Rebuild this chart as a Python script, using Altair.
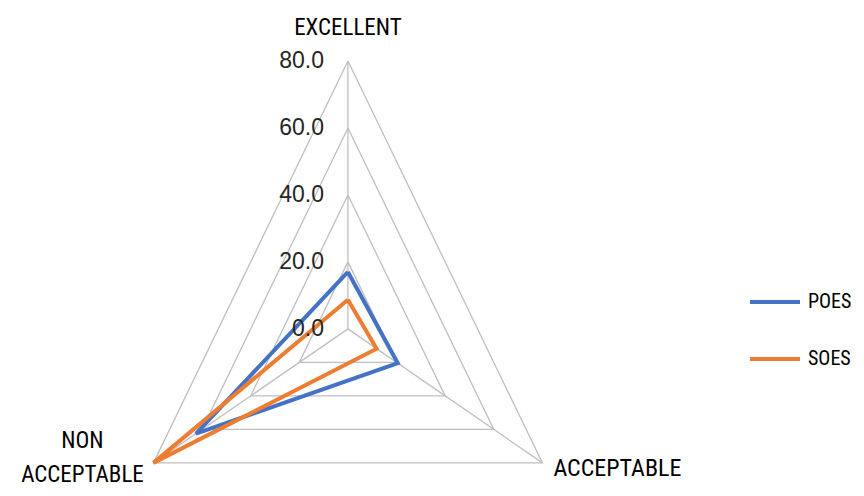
import math
import pandas as pd
import altair as alt

categories = ["EXCELLENT", "ACCEPTABLE", "NON ACCEPTABLE"]
series_names = ["POES", "SOES"]
poes = [17.0, 20.5, 62.5]
soes = [8.7, 11.8, 80.0]
ticks = [0, 20, 40, 60, 80]
colors = ["#4472C4", "#ED7D31"]

ANGLES = [0, 120, 240]
RMAX = 80
FONT = "Liberation Sans Narrow, Roboto Condensed, Roboto, Liberation Sans, sans-serif"


def pt(r, k):
    a = math.radians(ANGLES[k])
    return r * math.sin(a), r * math.cos(a)


# series polygons
srows = []
for name, vals in zip(series_names, [poes, soes]):
    for i in range(4):
        k = i % 3
        x, y = pt(vals[k], k)
        srows.append({"series": name, "x": x, "y": y, "o": i})
sdf = pd.DataFrame(srows)

# gridlines (triangles) and spokes
grows = []
for lv in ticks[1:]:
    for i in range(4):
        k = i % 3
        x, y = pt(lv, k)
        grows.append({"g": f"L{lv}", "x": x, "y": y, "o": i})
for k in range(3):
    x, y = pt(RMAX, k)
    grows.append({"g": f"S{k}", "x": 0.0, "y": 0.0, "o": 0})
    grows.append({"g": f"S{k}", "x": x, "y": y, "o": 1})
gdf = pd.DataFrame(grows)

# category labels
crow = []
for k, c in enumerate(categories):
    x, y = pt(RMAX, k)
    crow.append({"cat": c, "x": x, "y": y})
cdf = pd.DataFrame(crow)

tdf = pd.DataFrame({"t": ticks, "lab": [f"{t:.1f}" for t in ticks], "x": [0.0] * len(ticks)})

xs = alt.Scale(domain=[-121.1, 181.0], nice=False, zero=False)
ys = alt.Scale(domain=[-47.5, 95.8], nice=False, zero=False)
X = alt.X("x:Q", scale=xs, axis=None)
Y = alt.Y("y:Q", scale=ys, axis=None)

grid = alt.Chart(gdf).mark_line(color="#BFBFBF", strokeWidth=1.3).encode(
    x=X, y=Y, detail="g:N", order="o:Q"
)

lines = alt.Chart(sdf).mark_line(strokeWidth=4, strokeJoin="miter").encode(
    x=X,
    y=Y,
    color=alt.Color(
        "series:N",
        scale=alt.Scale(domain=series_names, range=colors),
        legend=alt.Legend(
            title=None,
            orient="none",
            legendX=740,
            legendY=267,
            symbolType="stroke",
            symbolSize=2500,
            symbolStrokeWidth=4,
            labelFontSize=20,
            labelFont=FONT,
            labelColor="#000000",
            labelOffset=6,
            rowPadding=20,
            padding=0,
        ),
    ),
    order="o:Q",
)

tick_text = alt.Chart(tdf).mark_text(
    align="right", baseline="middle", dx=-24, fontSize=23, font="Liberation Sans", color="#262626"
).encode(x=X, y=alt.Y("t:Q", scale=ys, axis=None), text="lab:N")

base_c = alt.Chart(cdf)
cat_top = base_c.transform_filter(alt.datum.cat == categories[0]).mark_text(
    align="center", baseline="middle", dy=-33, fontSize=23, font=FONT, color="#000000"
).encode(x=X, y=Y, text="cat:N")
cat_right = base_c.transform_filter(alt.datum.cat == categories[1]).mark_text(
    align="left", baseline="middle", dx=11, dy=6, fontSize=24, font=FONT, color="#000000"
).encode(x=X, y=Y, text="cat:N")
cat_left = base_c.transform_filter(alt.datum.cat == categories[2]).mark_text(
    align="center", baseline="middle", dx=-71, dy=-22, fontSize=23, font=FONT, color="#000000",
    lineHeight=34, lineBreak=" "
).encode(x=X, y=Y, text="cat:N")

chart = alt.layer(grid, lines, tick_text, cat_top, cat_right, cat_left).properties(
    width=848, height=480,
    padding=0,
    autosize=alt.AutoSizeParams(type="none"),
    background="white",
).configure_view(stroke=None)

chart.save("out.html", embed_options={"renderer": "svg", "actions": False})
